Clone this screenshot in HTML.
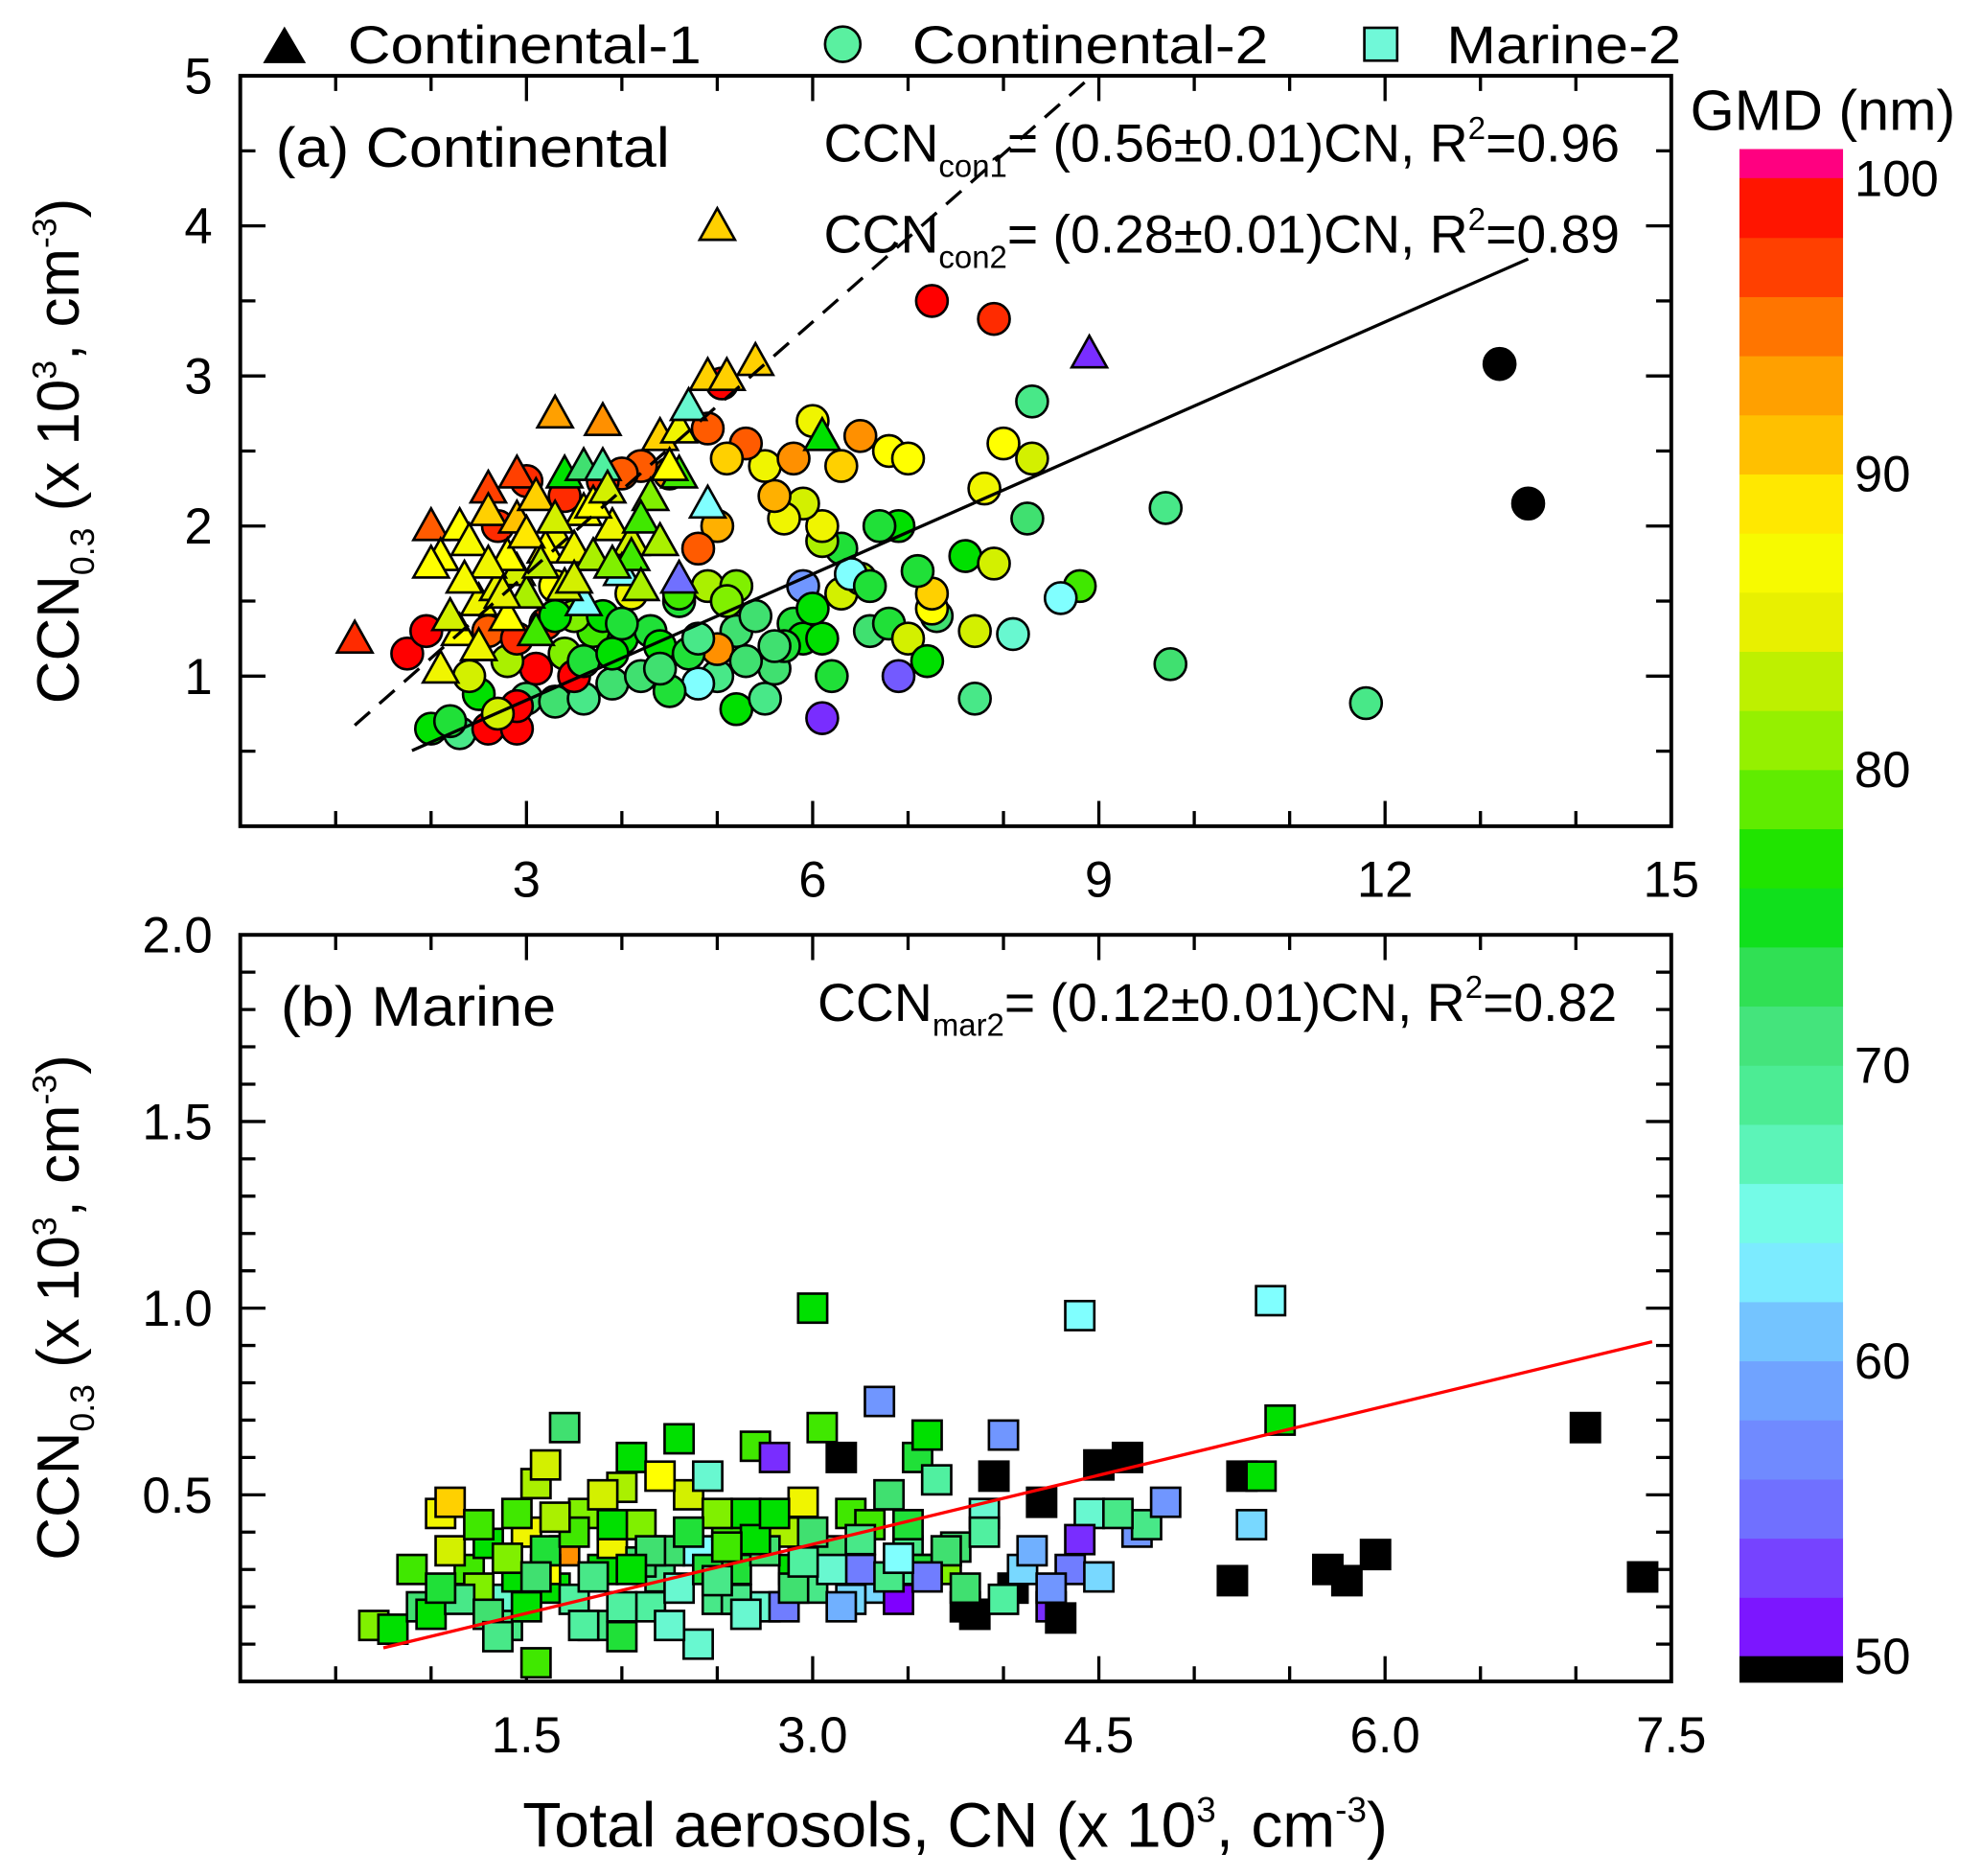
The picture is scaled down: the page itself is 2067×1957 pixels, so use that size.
<!DOCTYPE html>
<html><head><meta charset="utf-8">
<style>
html,body{margin:0;padding:0;background:#fff;}
svg{display:block;font-family:"Liberation Sans","DejaVu Sans",sans-serif;}
</style></head>
<body>
<svg id="chart" width="2067" height="1957" viewBox="0 0 1568 1485" xmlns="http://www.w3.org/2000/svg">
<g id="legend">
  <polygon points="208,50 242,50 225,21" fill="#000"/>
  <text x="275" y="50" font-size="42" textLength="280" lengthAdjust="spacingAndGlyphs">Continental-1</text>
  <circle cx="667" cy="35" r="14" fill="#5af0a0" stroke="#000" stroke-width="2"/>
  <text x="722" y="50" font-size="42" textLength="282" lengthAdjust="spacingAndGlyphs">Continental-2</text>
  <rect x="1080" y="22" width="26" height="26" fill="#70f8d8" stroke="#000" stroke-width="2"/>
  <text x="1145" y="50" font-size="42" textLength="186" lengthAdjust="spacingAndGlyphs">Marine-2</text>
</g>
<g id="pa"></g>
<g id="pb"></g>
<g id="cb"></g>
<text x="756" y="1462" font-size="50" text-anchor="middle">Total aerosols, CN (x 10<tspan dy="-20" font-size="28">3</tspan><tspan dy="20">, cm</tspan><tspan dy="-20" font-size="28">-3</tspan><tspan dy="20">)</tspan></text>
<text transform="translate(62,357) rotate(-90)" font-size="47" text-anchor="middle">CCN<tspan dy="12" font-size="27">0.3</tspan><tspan dy="-12"> (x 10</tspan><tspan dy="-18" font-size="27">3</tspan><tspan dy="18">, cm</tspan><tspan dy="-18" font-size="27">-3</tspan><tspan dy="18">)</tspan></text>
<text transform="translate(62,1035) rotate(-90)" font-size="47" text-anchor="middle">CCN<tspan dy="12" font-size="27">0.3</tspan><tspan dy="-12"> (x 10</tspan><tspan dy="-18" font-size="27">3</tspan><tspan dy="18">, cm</tspan><tspan dy="-18" font-size="27">-3</tspan><tspan dy="18">)</tspan></text>
</svg>
<script>
// ---- data ----
const triX=[1.2,3.3,3.8,2.6,2.9,2.0,2.1,2.3,2.6,2.9,3.1,3.4,3.6,3.8,3.3,3.6,3.9,4.1,4.4,4.6,4.7,4.9,5.1,5.4,5.0,8.9,6.1,4.6,4.9,4.3,4.0,3.6,3.1,2.1,2.3,2.5,2.7,2.9,3.2,3.5,2.2,2.5,2.8,3.0,3.4,3.7,4.1,4.2,4.6,2.4,2.8,3.0,3.3,3.7,4.2,4.4,2.0,2.6,3.5,3.9,4.5,2.35,2.75,3.15,3.85];
const triY=[1.25,2.75,2.7,2.25,2.35,2.0,1.8,2.0,2.1,2.05,2.2,2.35,2.4,2.4,1.95,2.1,2.0,1.9,2.6,2.65,2.8,3.0,3.0,3.1,4.0,3.15,2.6,2.35,2.15,2.2,1.7,1.5,1.3,1.05,1.3,1.5,1.6,1.7,1.85,1.85,1.4,1.2,1.4,1.55,1.6,1.8,1.8,1.6,1.65,1.9,1.8,1.95,2.05,2.15,2.05,1.9,1.75,1.75,1.65,1.75,2.4,1.65,1.55,1.75,2.25];
const triG=[98,93,94,97,97,96,88,88,90,91,90,76,72,68,86,87,86,84,90,86,66,90,90,90,90,52,76,78,64,80,64,64,78,86,88,86,85,84,88,86,84,86,88,82,84,82,78,82,55,87,88,89,84,88,78,82,88,86,84,80,88,87,85,83,84];
const cirX=[1.75,1.95,2.0,2.3,2.2,2.6,2.9,2.5,3.0,3.3,3.6,3.9,4.2,4.0,3.7,3.4,3.1,2.8,2.6,3.2,3.5,3.8,4.3,4.6,4.9,5.2,5.0,5.2,5.5,5.6,5.8,5.9,6.1,6.3,6.5,6.6,6.8,7.0,7.2,7.3,7.25,7.25,7.1,6.9,6.7,6.3,6.1,6.1,5.9,5.7,5.6,5.5,5.3,5.1,5.0,4.8,4.9,5.05,4.5,4.2,4.0,3.8,3.4,3.0,2.7,5.8,6.0,6.5,6.3,6.8,7.0,7.25,7.9,8.0,7.8,8.3,8.3,8.25,7.6,7.9,8.8,8.6,8.1,7.7,7.7,6.9,6.1,6.4,5.9,5.0,4.8,4.5,9.7,9.75,11.8,13.2,13.5,5.2,4.4,4.7,3.5,2.9,4.1,3.3,2.7,5.4,6.2,3.6,3.9,4.4,4.8,5.3,5.7,2.4,2.9,3.3,4.0,4.6,5.1,5.6,6.0,6.6];
const cirY=[1.15,1.3,0.65,0.62,0.7,0.65,0.65,0.88,0.85,0.83,0.85,0.95,1.0,1.25,1.3,1.15,1.05,1.1,1.3,1.35,1.4,1.4,1.3,1.5,1.6,1.3,1.0,0.78,0.85,1.05,1.35,1.25,1.25,1.55,1.65,1.3,1.35,1.25,1.1,1.4,1.45,1.55,1.7,2.0,2.0,1.85,1.9,2.0,2.15,2.05,2.2,2.4,2.55,2.45,2.0,1.85,2.65,2.95,2.35,2.4,2.35,2.3,2.2,2.3,2.0,2.45,2.7,2.6,2.4,2.5,2.45,3.5,3.38,2.55,2.25,2.45,2.83,2.05,1.8,1.75,1.6,1.52,1.28,1.3,0.85,1.0,0.72,1.68,1.6,1.18,0.95,0.9,2.12,1.08,0.82,3.08,2.15,1.6,1.2,1.15,1.0,0.8,1.55,1.6,0.75,1.4,1.0,1.1,1.15,1.05,1.25,1.1,1.2,1.0,1.25,1.4,1.35,1.55,1.5,1.2,1.45,1.6];
const cirG=[100,100,76,70,74,100,100,76,72,72,70,72,72,76,78,80,100,82,96,98,80,76,74,74,82,72,70,76,70,72,74,76,76,84,82,72,74,84,76,72,88,90,74,76,74,74,82,86,84,86,92,86,96,90,92,96,96,100,94,96,96,98,98,98,98,94,86,94,90,88,88,100,98,88,86,84,70,72,76,84,78,64,66,84,70,54,52,64,58,94,64,74,70,72,70,45,45,80,76,74,100,100,86,88,84,72,74,74,76,72,70,72,74,84,98,76,74,78,80,72,76,74];
const sqX=[0.7,0.8,0.95,1.0,1.05,1.1,1.2,1.3,1.35,1.4,1.45,1.5,1.55,1.6,1.7,1.7,1.65,1.8,1.85,1.9,1.95,2.0,2.05,2.1,2.15,2.2,2.3,2.35,2.4,2.45,2.5,2.55,2.6,2.7,2.75,2.8,2.85,2.9,2.95,3.0,3.05,3.1,3.15,3.2,3.3,3.35,3.4,3.5,3.55,3.6,3.65,3.7,3.8,3.85,3.9,3.95,4.0,4.05,4.1,4.2,4.25,4.3,4.35,4.4,4.45,4.5,4.5,4.65,4.7,4.75,4.85,5.2,5.25,5.3,5.35,5.4,5.45,5.7,5.8,5.95,7.05,7.35,2.4,1.55,0.9,1.25,1.75,2.25,2.65,3.25,3.45,4.4,2.0,1.45,2.85,3.55,4.15,3.0,1.1,1.6,1.9,2.5,3.3,3.75,2.2,2.75,
1.15,1.3,1.5,1.6,1.75,1.85,2.0,2.1,2.3,2.45,2.6,2.7,2.9,3.1,3.2,3.4,3.6,3.8,4.0,1.25,1.4,1.65,1.95,2.15,2.35,2.55,2.8,3.0,3.25,3.5,3.7,3.9,1.35,1.8,2.25,2.65,3.15,3.6,4.25,4.6,1.05,1.55,2.05,2.5,2.95,3.45];
const sqY=[0.15,0.14,0.2,0.18,0.45,0.48,0.3,0.37,0.22,0.15,0.28,0.4,0.53,0.58,0.68,0.35,0.25,0.45,0.15,0.3,0.37,0.52,0.6,0.42,0.2,0.28,0.65,0.5,0.35,0.55,0.22,0.42,0.3,0.63,0.2,0.6,0.4,0.3,0.48,1.0,0.68,0.35,0.6,0.45,0.25,0.75,0.5,0.35,0.6,0.66,0.54,0.3,0.2,0.18,0.45,0.55,0.66,0.25,0.3,0.48,0.2,0.17,0.3,0.98,0.45,0.28,0.58,0.6,0.4,0.42,0.48,0.27,0.55,0.42,0.55,1.02,0.7,0.3,0.27,0.34,0.68,0.28,0.1,0.05,0.3,0.25,0.22,0.35,0.45,0.3,0.22,0.38,0.12,0.45,0.2,0.3,0.35,0.25,0.35,0.3,0.5,0.45,0.42,0.36,0.55,0.35,
0.22,0.18,0.2,0.35,0.4,0.28,0.2,0.32,0.25,0.3,0.22,0.38,0.25,0.3,0.22,0.28,0.3,0.25,0.22,0.42,0.33,0.44,0.42,0.35,0.4,0.36,0.45,0.4,0.38,0.42,0.35,0.4,0.12,0.15,0.15,0.18,0.2,0.28,0.25,0.45,0.25,0.28,0.3,0.27,0.32,0.33];
const sqG=[80,76,72,76,86,90,78,76,66,70,76,86,82,84,72,94,76,80,70,76,86,82,76,80,68,70,76,84,64,66,70,78,74,78,66,52,82,76,86,76,78,72,45,78,62,58,72,70,74,76,68,80,45,45,66,45,58,45,62,45,52,45,56,64,66,62,45,45,58,70,58,45,45,62,76,64,76,45,45,45,45,45,66,78,78,80,68,72,76,56,50,52,74,78,56,68,60,70,84,88,84,80,78,72,88,72,
70,72,76,74,78,70,68,72,66,74,70,76,72,66,62,70,74,72,68,78,80,82,76,72,74,78,76,72,70,74,72,68,70,68,66,66,60,56,58,70,74,72,76,70,68,64];
const aXTicks=[3,6,9,12,15], aYTicks=[1,2,3,4,5];
const bXTicks=[1.5,3.0,4.5,6.0,7.5], bYTicks=[0.5,1.0,1.5,2.0];
const cbTicks=[50,60,70,80,90,100];

const NS="http://www.w3.org/2000/svg";
function mk(parent,tag,attrs){const e=document.createElementNS(NS,tag);for(const k in attrs)e.setAttribute(k,attrs[k]);parent.appendChild(e);return e;}
const stops=[[50,[127,0,255]],[55,[112,112,255]],[60,[112,176,255]],[64,[128,255,255]],[68,[80,240,160]],[72,[64,224,112]],[76,[0,224,0]],[80,[128,240,0]],[85,[232,240,0]],[88,[255,255,0]],[90,[255,208,0]],[94,[255,144,0]],[97,[255,64,0]],[100,[255,0,0]]];
function gcol(g){ if(g<50)return "#000"; if(g>100)return "#ff0080";
  for(let i=0;i<stops.length-1;i++){const a=stops[i],b=stops[i+1];if(g<=b[0]){const t=(g-a[0])/(b[0]-a[0]);const c=a[1].map((v,j)=>Math.round(v+(b[1][j]-v)*t));return `rgb(${c})`;}}
  return "#f00";}

function panel(g,x0,x1,y0,y1,xmax,ymax,xt,yt,xminor,yminor,fmt){
  const sx=v=>x0+(x1-x0)*v/xmax, sy=v=>y1-(y1-y0)*v/ymax;
  const ax=mk(g,'g',{});
  
  
  for(let v=xminor;v<xmax-1e-9;v+=xminor){const p=sx(v);const major=xt.some(t=>Math.abs(t-v)<1e-6);const L=major?20:12;
    mk(ax,'line',{x1:p,x2:p,y1:y1,y2:y1-L,stroke:'#000','stroke-width':2.5});mk(ax,'line',{x1:p,x2:p,y1:y0,y2:y0+L,stroke:'#000','stroke-width':2.5});}
  for(let v=yminor;v<ymax-1e-9;v+=yminor){const p=sy(v);const major=yt.some(t=>Math.abs(t-v)<1e-6);const L=major?20:12;
    mk(ax,'line',{x1:x0,x2:x0+L,y1:p,y2:p,stroke:'#000','stroke-width':2.5});mk(ax,'line',{x1:x1,x2:x1-L,y1:p,y2:p,stroke:'#000','stroke-width':2.5});}
  mk(ax,'rect',{x:x0,y:y0,width:x1-x0,height:y1-y0,fill:'none',stroke:'#000','stroke-width':3});
  xt.forEach(v=>{const t=mk(ax,'text',{x:sx(v),y:y1+56,'font-size':40,'text-anchor':'middle'});t.textContent=fmt(v);
    });
  yt.forEach(v=>{const t=mk(ax,'text',{x:x0-22,y:sy(v)+14,'font-size':40,'text-anchor':'end'});t.textContent=fmt(v);
    });
  return {sx,sy};
}
// Panel a
const pa=document.getElementById('pa');
const A=panel(pa,190,1323,60,654,15,5,aXTicks,aYTicks,1,0.5,v=>String(v));
const ma=mk(pa,'g',{});


cirX.forEach((x,i)=>{const c=mk(ma,'circle',{cx:A.sx(x),cy:A.sy(cirY[i]),r:12.5,fill:gcol(cirG[i]),stroke:'#000','stroke-width':2});
  });
triX.forEach((x,i)=>{const px=A.sx(x),py=A.sy(triY[i]);const t=mk(ma,'polygon',{points:`${px-14},${py+11} ${px+14},${py+11} ${px},${py-14}`,fill:gcol(triG[i]),stroke:'#000','stroke-width':2});
  });
const l1=mk(pa,'line',{x1:A.sx(1.2),y1:A.sy(0.56*1.2),x2:A.sx(5/0.56),y2:A.sy(5),stroke:'#000','stroke-width':2.5,'stroke-dasharray':'16,10'});

const l2=mk(pa,'line',{x1:A.sx(1.8),y1:A.sy(0.28*1.8),x2:A.sx(13.5),y2:A.sy(0.28*13.5),stroke:'#000','stroke-width':2.5});

// Panel b
const pb=document.getElementById('pb');
const B=panel(pb,190,1323,740,1331,7.5,2,bXTicks,bYTicks,0.5,0.1,v=>v.toFixed(1));
const mb=mk(pb,'g',{});


sqX.forEach((x,i)=>{const r=mk(mb,'rect',{x:B.sx(x)-11.5,y:B.sy(sqY[i])-11.5,width:23,height:23,fill:gcol(sqG[i]),stroke:'#000','stroke-width':2});
  });
const l3=mk(pb,'line',{x1:B.sx(0.75),y1:B.sy(0.12*0.75),x2:B.sx(7.4),y2:B.sy(0.123*7.4),stroke:'#f00','stroke-width':2.5});

// annotations
function ann(g,x,y,txt,sub,r2,name){const t=mk(g,'text',{x:x,y:y,'font-size':42});
  
  t.innerHTML=`CCN<tspan dy="12" font-size="25">${sub}</tspan><tspan dy="-12">= (${txt})CN, R</tspan><tspan dy="-18" font-size="25">2</tspan><tspan dy="18">=${r2}</tspan>`;}
const pl=mk(pa,'text',{x:218,y:132,'font-size':44,textLength:312,lengthAdjust:'spacingAndGlyphs'});pl.textContent='(a) Continental';

ann(pa,652,128,'0.56±0.01','con1','0.96','equation-con1');
ann(pa,652,200,'0.28±0.01','con2','0.89','equation-con2');
const plb=mk(pb,'text',{x:222,y:812,'font-size':44,textLength:218,lengthAdjust:'spacingAndGlyphs'});plb.textContent='(b) Marine';

ann(pb,647,808,'0.12±0.01','mar2','0.82','equation-mar2');
// colorbar
const cb=document.getElementById('cb');
const cy=v=>1311-(1311-141)*(v-50)/50;
mk(cb,'rect',{x:1377,y:118,width:82,height:cy(100)-118+1,fill:'#ff0080'});
for(let v=50;v<100;v+=2){mk(cb,'rect',{x:1377,y:cy(v+2),width:82,height:cy(v)-cy(v+2)+0.6,fill:gcol(v+1)});}
mk(cb,'rect',{x:1377,y:1311,width:82,height:21,fill:'#000'});
cbTicks.forEach(v=>{const t=mk(cb,'text',{x:1468,y:cy(v)+14,'font-size':40});t.textContent=v;
  });
const ct=mk(cb,'text',{x:1443,y:103,'font-size':45,'text-anchor':'middle'});ct.textContent='GMD (nm)';

</script>
</body></html>
